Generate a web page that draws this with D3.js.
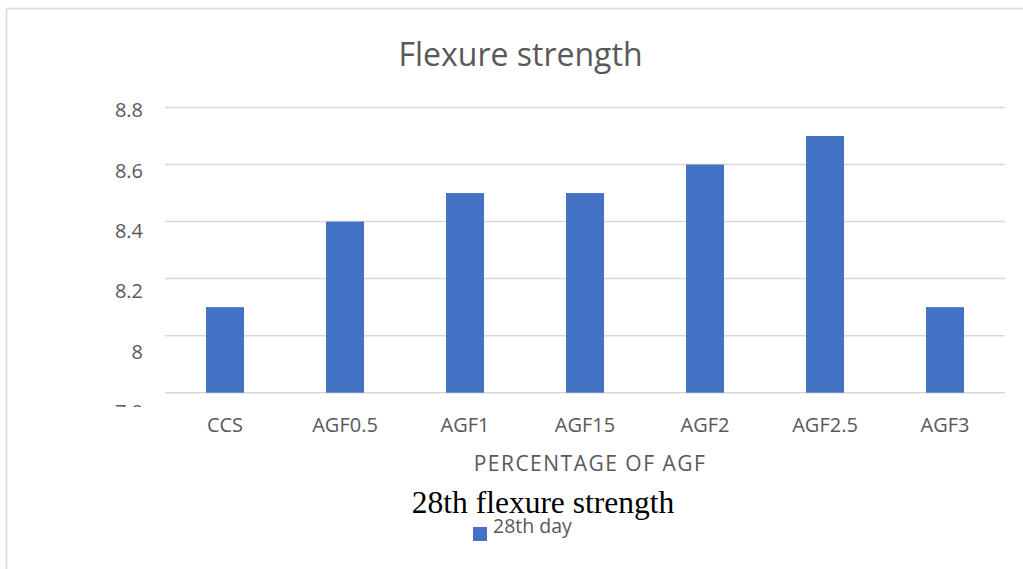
<!DOCTYPE html>
<html>
<head>
<meta charset="utf-8">
<script src="https://cdn.jsdelivr.net/npm/d3@7/dist/d3.min.js"></script>
<style>
  html, body { margin: 0; padding: 0; background: #fff; }
  svg { display: block; }
</style>
</head>
<body>
<svg id="chart" width="1023" height="569"></svg>
<script>
// Flexural strength at 28 days for each AGF percentage
const categories = ["CCS", "AGF0.5", "AGF1", "AGF15", "AGF2", "AGF2.5", "AGF3"];
const day28 = [8.1, 8.4, 8.5, 8.5, 8.6, 8.7, 8.1];
const yTicks = [7.8, 8, 8.2, 8.4, 8.6, 8.8];
const yTickLabels = ["7.8", "8", "8.2", "8.4", "8.6", "8.8"];
const seriesName = "28th day";

const W = 1023, H = 569;
const plot = { left: 165, right: 1005, top: 107.5, bottom: 392.7 };
const grey = "#595959";
const barColor = "#4472c4";
const font = "'Open Sans', 'Noto Sans', sans-serif";

const svg = d3.select("#chart");

// chart area border
svg.append("rect")
  .attr("x", 6.5).attr("y", 8.5)
  .attr("width", W + 10).attr("height", H + 10)
  .attr("fill", "#fff").attr("stroke", "#d9d9d9").attr("stroke-width", 1.5);

const x = d3.scaleBand()
  .domain(categories)
  .range([plot.left, plot.right])
  .paddingInner(0.683).paddingOuter(0.3415);

const y = d3.scaleLinear()
  .domain([7.8, 8.8])
  .range([plot.bottom, plot.top]);

// the value labels sit on a slightly taller band than the gridlines
const yLabel = d3.scaleLinear()
  .domain([7.8, 8.8])
  .range([412, 110]);

// horizontal gridlines
svg.append("g")
  .selectAll("line")
  .data(yTicks)
  .join("line")
  .attr("x1", plot.left).attr("x2", plot.right)
  .attr("y1", d => y(d)).attr("y2", d => y(d))
  .attr("stroke", "#d9d9d9").attr("stroke-width", 1.5);

// bars
svg.append("g")
  .selectAll("rect")
  .data(categories.map((c, i) => ({ c, v: day28[i] })))
  .join("rect")
  .attr("x", d => x(d.c))
  .attr("width", x.bandwidth())
  .attr("y", d => y(d.v))
  .attr("height", d => y(7.8) - y(d.v))
  .attr("fill", barColor);

// y tick labels; the lowest one is cut off at the bottom of the axis area
svg.append("defs").append("clipPath").attr("id", "yclip")
  .append("rect").attr("x", 0).attr("y", 0).attr("width", 160).attr("height", 407);

svg.append("g")
  .attr("clip-path", "url(#yclip)")
  .selectAll("text")
  .data(yTicks)
  .join("text")
  .attr("x", 143)
  .attr("y", d => yLabel(d))
  .attr("dy", "0.36em")
  .attr("text-anchor", "end")
  .attr("font-family", font).attr("font-size", 20)
  .attr("fill", grey)
  .text((d, i) => yTickLabels[i]);

// x axis labels
const xAxis = d3.axisBottom(x).tickSize(0).tickPadding(0);
const xg = svg.append("g")
  .attr("transform", `translate(0,${plot.bottom})`)
  .call(xAxis);
xg.select(".domain").remove();
xg.selectAll("text")
  .attr("font-family", font).attr("font-size", 20)
  .attr("fill", grey)
  .attr("dy", null)
  .attr("y", 39);

// chart title
svg.append("text")
  .attr("x", 520.5).attr("y", 66)
  .attr("text-anchor", "middle")
  .attr("font-family", font).attr("font-size", 32)
  .attr("fill", grey)
  .text("Flexure strength");

// x axis title
svg.append("text")
  .attr("x", 590).attr("y", 471)
  .attr("text-anchor", "middle")
  .attr("font-family", font).attr("font-size", 21)
  .attr("letter-spacing", 1.5)
  .attr("fill", grey)
  .text("PERCENTAGE OF AGF");

// caption
svg.append("text")
  .attr("x", 543).attr("y", 513)
  .attr("text-anchor", "middle")
  .attr("font-family", "'Liberation Serif', 'Times New Roman', serif")
  .attr("font-size", 31.5)
  .attr("fill", "#000")
  .text("28th flexure strength");

// legend
const lg = svg.append("g").attr("transform", "translate(473,527)");
lg.append("rect").attr("width", 14).attr("height", 14).attr("fill", barColor);
lg.append("text")
  .attr("x", 20).attr("y", 6)
  .attr("font-family", font).attr("font-size", 19.5)
  .attr("fill", grey)
  .text(seriesName);
</script>
</body>
</html>
